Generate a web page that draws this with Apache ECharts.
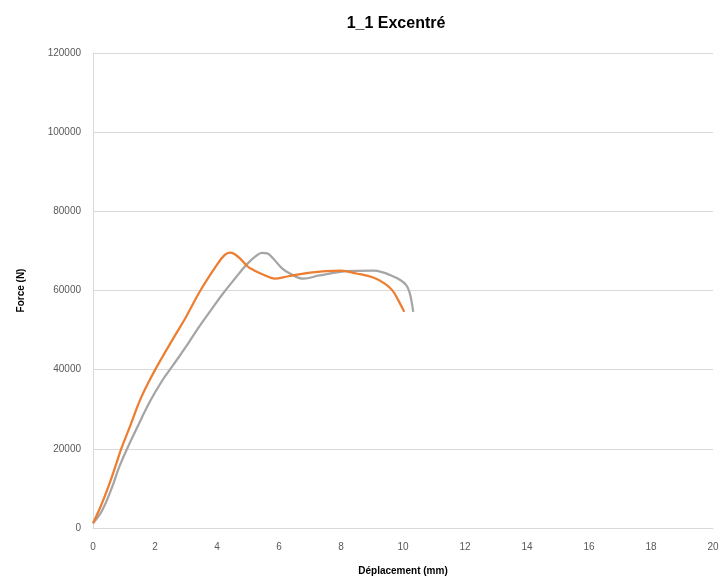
<!DOCTYPE html>
<html>
<head>
<meta charset="utf-8">
<script src="https://cdn.jsdelivr.net/npm/echarts@6/dist/echarts.min.js"></script>
<style>html,body{margin:0;padding:0;background:#fff;}#c{width:726px;height:583px;}</style>
</head>
<body>
<div id="c"></div>
<script>
var titleText = '1_1 Excentré';
var xName = 'Déplacement (mm)';
var yName = 'Force (N)';
var xTicks = [0, 2, 4, 6, 8, 10, 12, 14, 16, 18, 20];
var yTicks = [0, 20000, 40000, 60000, 80000, 100000, 120000];

var orangeX = [0, 0.25, 0.5, 0.75, 0.91, 1.2, 1.5, 1.83, 2.2, 2.59, 3.0, 3.45, 3.99, 4.25, 4.42, 4.55, 4.74, 5.0, 5.17, 5.5, 5.85, 6.3, 7.0, 7.5, 8.0, 8.5, 9.04, 9.4, 9.65, 9.85, 10.04];
var orangeY = [1200, 5500, 10500, 16200, 20000, 25800, 32000, 37400, 42700, 47900, 53300, 59800, 66400, 69000, 69600, 69300, 68100, 66000, 65200, 64000, 63000, 63600, 64500, 64900, 65000, 64300, 63300, 61800, 60100, 57500, 54600];

var grayX = [0, 0.3, 0.6, 0.85, 1.1, 1.4, 1.84, 2.23, 2.59, 3.0, 3.35, 3.8, 4.2, 4.6, 4.96, 5.25, 5.45, 5.62, 5.82, 6.1, 6.35, 6.78, 7.3, 7.97, 8.5, 9.04, 9.35, 9.58, 9.9, 10.11, 10.22, 10.33];
var grayY = [1200, 4500, 10000, 15500, 20000, 25000, 32000, 37200, 41200, 45800, 50000, 55000, 59300, 63200, 66600, 68700, 69500, 69400, 68000, 65600, 64300, 63000, 63800, 64700, 64950, 65000, 64600, 63900, 62700, 61300, 59300, 54600];

function pairs(xs, ys) { return xs.map(function (x, i) { return [x, ys[i]]; }); }

var chart = echarts.init(document.getElementById('c'), null, {renderer: 'canvas'});
var font = "'Liberation Sans', sans-serif";
chart.setOption({
  animation: false,
  backgroundColor: '#ffffff',
  title: {
    text: titleText, left: 391, top: 11, textAlign: 'center',
    textStyle: {fontFamily: font, fontSize: 16, fontWeight: 'bold', color: '#000000'}
  },
  grid: {left: 93, right: 13, top: 53, bottom: 55, containLabel: false},
  xAxis: {
    type: 'value', min: xTicks[0], max: xTicks[xTicks.length - 1], interval: 2,
    name: xName, nameLocation: 'middle', nameGap: 38,
    nameTextStyle: {fontFamily: font, fontSize: 10, fontWeight: 'bold', color: '#000'},
    axisLine: {show: true, lineStyle: {color: '#d9d9d9', width: 1}},
    axisTick: {show: false},
    splitLine: {show: false},
    axisLabel: {fontFamily: font, fontSize: 10, color: '#595959', margin: 14}
  },
  yAxis: {
    type: 'value', min: yTicks[0], max: yTicks[yTicks.length - 1], interval: 20000,
    name: yName, nameLocation: 'middle', nameGap: 67, nameRotate: 90,
    nameTextStyle: {fontFamily: font, fontSize: 10, fontWeight: 'bold', color: '#000'},
    axisLine: {show: true, lineStyle: {color: '#d9d9d9', width: 1}},
    axisTick: {show: false},
    splitLine: {show: true, lineStyle: {color: '#d9d9d9', width: 1}},
    axisLabel: {fontFamily: font, fontSize: 10, color: '#595959', margin: 12,
      formatter: function (v) { return String(v); }}
  },
  series: [
    {type: 'line', data: pairs(grayX, grayY), showSymbol: false, smooth: 0.4,
     lineStyle: {color: '#a5a5a5', width: 2.25}, itemStyle: {color: '#a5a5a5'}},
    {type: 'line', data: pairs(orangeX, orangeY), showSymbol: false, smooth: 0.4,
     lineStyle: {color: '#ed7d31', width: 2.25}, itemStyle: {color: '#ed7d31'}}
  ]
});
</script>
</body>
</html>
